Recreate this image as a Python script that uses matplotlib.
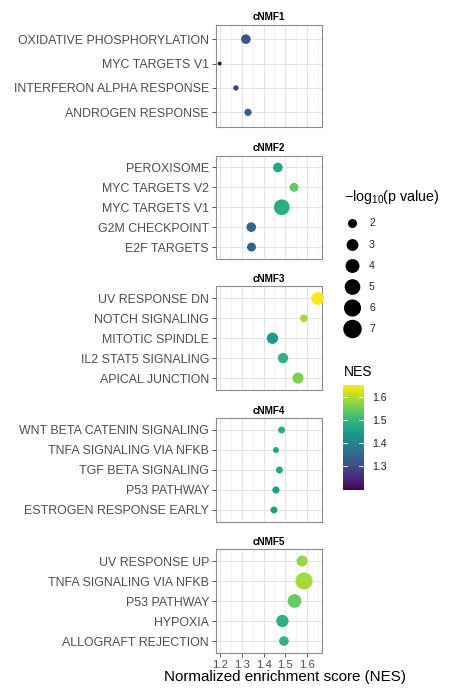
import numpy as np
import matplotlib
matplotlib.use("Agg")
import matplotlib.pyplot as plt
from matplotlib import colors
from matplotlib.colorbar import ColorbarBase

plt.rcParams['font.family'] = ['Liberation Sans', 'DejaVu Sans']
plt.rcParams['mathtext.fontset'] = 'custom'
plt.rcParams['mathtext.rm'] = 'Liberation Sans'
plt.rcParams['mathtext.it'] = 'Liberation Sans'

# ---------------- data (top-to-bottom order inside each panel) ----------------
panel_titles = ["cNMF1", "cNMF2", "cNMF3", "cNMF4", "cNMF5"]

cnmf1_terms = ["OXIDATIVE PHOSPHORYLATION", "MYC TARGETS V1", "INTERFERON ALPHA RESPONSE", "ANDROGEN RESPONSE"]
cnmf1_nes = [1.318, 1.197, 1.272, 1.328]
cnmf1_logp = [2.17, 1.30, 1.35, 1.60]

cnmf2_terms = ["PEROXISOME", "MYC TARGETS V2", "MYC TARGETS V1", "G2M CHECKPOINT", "E2F TARGETS"]
cnmf2_nes = [1.466, 1.541, 1.484, 1.343, 1.344]
cnmf2_logp = [2.17, 1.99, 5.04, 2.17, 1.99]

cnmf3_terms = ["UV RESPONSE DN", "NOTCH SIGNALING", "MITOTIC SPINDLE", "IL2 STAT5 SIGNALING", "APICAL JUNCTION"]
cnmf3_nes = [1.650, 1.586, 1.441, 1.490, 1.559]
cnmf3_logp = [3.45, 1.66, 2.78, 2.40, 2.66]

cnmf4_terms = ["WNT BETA CATENIN SIGNALING", "TNFA SIGNALING VIA NFKB", "TGF BETA SIGNALING", "P53 PATHWAY", "ESTROGEN RESPONSE EARLY"]
cnmf4_nes = [1.483, 1.457, 1.473, 1.457, 1.448]
cnmf4_logp = [1.55, 1.41, 1.55, 1.60, 1.55]

cnmf5_terms = ["UV RESPONSE UP", "TNFA SIGNALING VIA NFKB", "P53 PATHWAY", "HYPOXIA", "ALLOGRAFT REJECTION"]
cnmf5_nes = [1.578, 1.587, 1.543, 1.487, 1.494]
cnmf5_logp = [2.66, 6.0, 3.86, 3.21, 2.17]

x_ticks = [1.2, 1.3, 1.4, 1.5, 1.6]
size_legend_vals = [2, 3, 4, 5, 6, 7]
nes_ticks = [1.3, 1.4, 1.5, 1.6]

panels = [
    (cnmf1_terms, cnmf1_nes, cnmf1_logp),
    (cnmf2_terms, cnmf2_nes, cnmf2_logp),
    (cnmf3_terms, cnmf3_nes, cnmf3_logp),
    (cnmf4_terms, cnmf4_nes, cnmf4_logp),
    (cnmf5_terms, cnmf5_nes, cnmf5_logp),
]

# ---------------- styling helpers ----------------
W, H = 457, 690
DPI = 100
fig = plt.figure(figsize=(W / DPI, H / DPI), dpi=DPI)
fig.patch.set_facecolor("white")

all_nes = sum([p[1] for p in panels], [])
norm = colors.Normalize(vmin=min(all_nes), vmax=max(all_nes))
cmap = matplotlib.colormaps["viridis"]


def diam_px(v):
    return 3.9 + 6.1 * np.sqrt(np.maximum(np.asarray(v, float) - 1.3, 0))


def s_area(v):
    d_pt = diam_px(v) * 72.0 / DPI
    return d_pt ** 2


def fig_rect(left, top, right, bottom):
    return [left / W, 1 - bottom / H, (right - left) / W, (bottom - top) / H]


panel_tb = [(24.5, 127), (155.5, 259), (286.5, 390), (418, 522), (549, 653)]
px_left, px_right = 216, 322
grey_txt = "#4d4d4d"
frame_col = "#8c8c8c"

for k, ((terms, nes, logp), (top, bot)) in enumerate(zip(panels, panel_tb)):
    ax = fig.add_axes(fig_rect(px_left, top, px_right, bot))
    n = len(terms)
    ypos = np.arange(n)[::-1]
    ax.set_xlim(1.18, 1.67)
    ax.set_ylim(-0.6, n - 1 + 0.6)
    ax.set_xticks(x_ticks)
    ax.set_xticks([1.25, 1.35, 1.45, 1.55, 1.65], minor=True)
    ax.set_yticks(ypos)
    ax.set_yticklabels(terms, fontsize=8.95, color=grey_txt)
    ax.grid(True, which="major", color="#e4e4e4", linewidth=0.8, zorder=0)
    ax.grid(True, which="minor", axis="x", color="#efefef", linewidth=0.5, zorder=0)
    ax.set_axisbelow(True)
    for sp in ax.spines.values():
        sp.set_color(frame_col)
        sp.set_linewidth(0.8)
    ax.tick_params(axis="y", length=3, width=0.7, color="#555555", pad=2)
    ax.tick_params(axis="x", which="minor", length=0)
    if k < len(panels) - 1:
        ax.tick_params(axis="x", which="major", length=0, labelbottom=False)
    else:
        ax.tick_params(axis="x", which="major", length=3, width=0.7, color="#555555",
                       labelsize=8.2, labelcolor=grey_txt, pad=2)
    ax.scatter(nes, ypos, s=s_area(logp), c=nes, cmap=cmap, norm=norm,
               edgecolors="none", zorder=3, clip_on=False)
    ax.set_title(panel_titles[k], fontsize=7.2, fontweight="bold", pad=3)

fig.text(285 / W, 1 - 677 / H, "Normalized enrichment score (NES)", fontsize=10.9,
         ha="center", va="center", color="black")

# ---------------- size legend ----------------
lax = fig.add_axes([0, 0, 1, 1])
lax.set_xlim(0, W)
lax.set_ylim(H, 0)
lax.axis("off")
fig.text(344 / W, 1 - 197 / H, r"$-\mathrm{log}_{10}(\mathrm{p\ value})$", fontsize=10.3,
         va="center", ha="left")
leg_y = [223.5, 245, 266, 287, 308, 329]
lax.scatter([352.5] * len(size_legend_vals), leg_y, s=s_area(size_legend_vals),
            color="black", edgecolors="none")
for v, y in zip(size_legend_vals, leg_y):
    lax.text(369, y, str(v), fontsize=7.6, va="center", ha="left", color="#222222")

# ---------------- colour legend ----------------
fig.text(344 / W, 1 - 372 / H, "NES", fontsize=10, va="center", ha="left")
cax = fig.add_axes(fig_rect(342.5, 385, 363.5, 490))
cb = ColorbarBase(cax, cmap=cmap, norm=norm, orientation="vertical")
cb.outline.set_visible(False)
cb.set_ticks(nes_ticks)
cb.set_ticklabels([f"{t:.1f}" for t in nes_ticks])
cax.tick_params(axis="y", length=0, labelsize=7.6, labelcolor="#222222", pad=6)
for t in nes_ticks:
    cax.plot([0, 0.2], [t, t], color="white", lw=0.6, transform=cax.get_yaxis_transform())
    cax.plot([0.8, 1], [t, t], color="white", lw=0.6, transform=cax.get_yaxis_transform())

fig.savefig("out.png", dpi=DPI, facecolor="white")
